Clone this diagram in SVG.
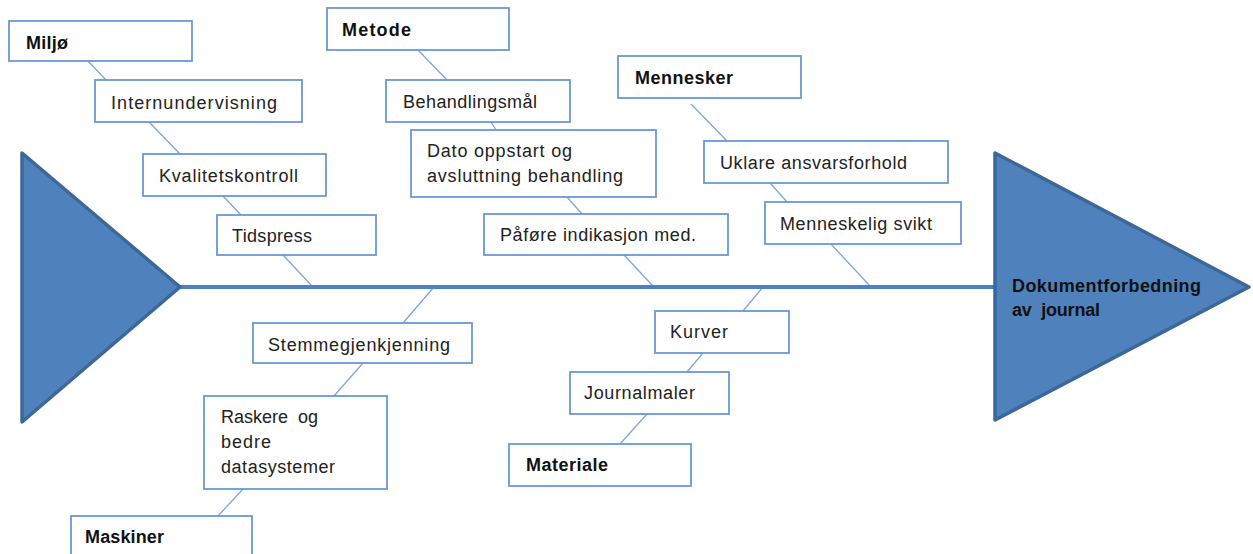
<svg xmlns="http://www.w3.org/2000/svg" width="1253" height="554" viewBox="0 0 1253 554">
<style>
.box{fill:#fff;stroke:#6A98D4;stroke-width:1.8}
.t{font-family:"Liberation Sans",Arial,sans-serif;font-size:18px;fill:#222}
.b{font-weight:bold;fill:#111}
.c{stroke:#7EA6DA;stroke-width:1.3;fill:none}
.tri{fill:#4F81BD;stroke:#3C679B;stroke-width:3.5;stroke-linejoin:round}
</style>
<rect width="1253" height="554" fill="#fff"/>
<g id="connectors">
<line class="c" x1="88" y1="61" x2="106" y2="80"/>
<line class="c" x1="149" y1="122" x2="180" y2="154"/>
<line class="c" x1="223" y1="196" x2="241" y2="215"/>
<line class="c" x1="283" y1="255" x2="312" y2="286"/>
<line class="c" x1="418" y1="50" x2="447" y2="80"/>
<line class="c" x1="491" y1="122" x2="496" y2="130"/>
<line class="c" x1="567" y1="197" x2="582" y2="214"/>
<line class="c" x1="624" y1="255" x2="653" y2="286"/>
<line class="c" x1="691" y1="104" x2="727" y2="141"/>
<line class="c" x1="770" y1="183" x2="787" y2="202"/>
<line class="c" x1="831" y1="244" x2="870" y2="286"/>
<line class="c" x1="434" y1="287" x2="403" y2="323"/>
<line class="c" x1="363" y1="363" x2="334" y2="396"/>
<line class="c" x1="243" y1="489" x2="218" y2="516"/>
<line class="c" x1="763" y1="287" x2="743" y2="311"/>
<line class="c" x1="703" y1="353" x2="687" y2="372"/>
<line class="c" x1="647" y1="414" x2="620" y2="444"/>
<line x1="180" y1="287" x2="995" y2="287" stroke="#4F81BD" stroke-width="4"/>
</g>
<g id="head-left"><polygon class="tri" points="22,153 22,422 180,287"/></g>
<g id="head-right"><polygon class="tri" points="995,153 995,420 1249,287"/>
<text class="t b" x="1012" y="292" textLength="189" lengthAdjust="spacing">Dokumentforbedning</text>
<text class="t b" x="1012" y="316" textLength="88" lengthAdjust="spacing" xml:space="preserve">av  journal</text></g>
<g id="miljo"><rect class="box" x="9" y="21" width="183" height="40"/><text class="t b" x="26" y="49" textLength="42" lengthAdjust="spacing">Miljø</text></g>
<g id="internundervisning"><rect class="box" x="95" y="80" width="207" height="42"/><text class="t" x="111" y="109" textLength="166" lengthAdjust="spacing">Internundervisning</text></g>
<g id="kvalitetskontroll"><rect class="box" x="143" y="154" width="183" height="42"/><text class="t" x="159" y="182" textLength="139" lengthAdjust="spacing">Kvalitetskontroll</text></g>
<g id="tidspress"><rect class="box" x="217" y="215" width="159" height="40"/><text class="t" x="232" y="242" textLength="80" lengthAdjust="spacing">Tidspress</text></g>
<g id="metode"><rect class="box" x="327" y="8" width="182" height="42"/><text class="t b" x="342" y="36" textLength="69" lengthAdjust="spacing">Metode</text></g>
<g id="behandlingsmal"><rect class="box" x="386" y="80" width="184" height="42"/><text class="t" x="403" y="108" textLength="134" lengthAdjust="spacing">Behandlingsmål</text></g>
<g id="dato"><rect class="box" x="411" y="130" width="245" height="67"/><text class="t" x="427" y="157" textLength="145" lengthAdjust="spacing">Dato oppstart og</text><text class="t" x="427" y="182" textLength="196" lengthAdjust="spacing">avsluttning behandling</text></g>
<g id="paafore"><rect class="box" x="484" y="214" width="244" height="41"/><text class="t" x="500" y="241" textLength="196" lengthAdjust="spacing">Påføre indikasjon med.</text></g>
<g id="mennesker"><rect class="box" x="618" y="56" width="183" height="42"/><text class="t b" x="635" y="84" textLength="98" lengthAdjust="spacing">Mennesker</text></g>
<g id="uklare"><rect class="box" x="704" y="141" width="244" height="42"/><text class="t" x="720" y="169" textLength="187" lengthAdjust="spacing">Uklare ansvarsforhold</text></g>
<g id="svikt"><rect class="box" x="765" y="202" width="196" height="42"/><text class="t" x="780" y="230" textLength="152" lengthAdjust="spacing">Menneskelig svikt</text></g>
<g id="stemme"><rect class="box" x="253" y="323" width="219" height="40"/><text class="t" x="268" y="351" textLength="182" lengthAdjust="spacing">Stemmegjenkjenning</text></g>
<g id="raskere"><rect class="box" x="204" y="396" width="183" height="93"/><text class="t" x="221" y="423" textLength="97" lengthAdjust="spacing" xml:space="preserve">Raskere  og</text><text class="t" x="221" y="448" textLength="50" lengthAdjust="spacing">bedre</text><text class="t" x="221" y="473" textLength="114" lengthAdjust="spacing">datasystemer</text></g>
<g id="maskiner"><rect class="box" x="71" y="516" width="181" height="50"/><text class="t b" x="85" y="543" textLength="79" lengthAdjust="spacing">Maskiner</text></g>
<g id="kurver"><rect class="box" x="655" y="311" width="134" height="42"/><text class="t" x="670" y="338" textLength="58" lengthAdjust="spacing">Kurver</text></g>
<g id="journalmaler"><rect class="box" x="570" y="372" width="159" height="42"/><text class="t" x="584" y="399" textLength="111" lengthAdjust="spacing">Journalmaler</text></g>
<g id="materiale"><rect class="box" x="509" y="444" width="182" height="42"/><text class="t b" x="526" y="471" textLength="82" lengthAdjust="spacing">Materiale</text></g>
</svg>
